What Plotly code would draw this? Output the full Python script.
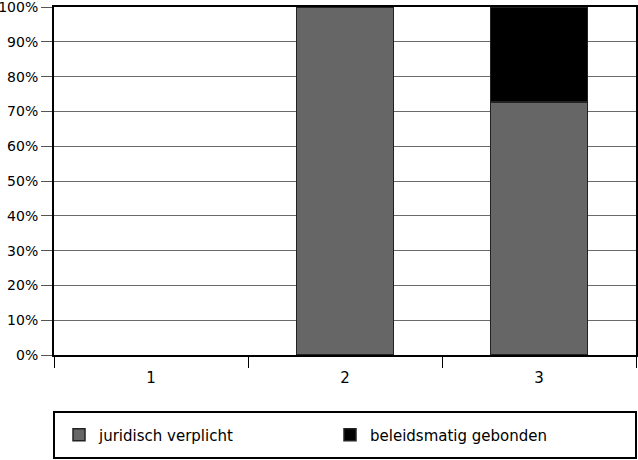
import plotly.graph_objects as go

categories = ["1", "2", "3"]
juridisch = [None, 100, 72.7]
beleids = [None, None, 27.3]
y_ticks = [0, 10, 20, 30, 40, 50, 60, 70, 80, 90, 100]
y_labels = [f"{v}%" for v in y_ticks]

fig = go.Figure()
fig.add_trace(go.Bar(x=categories, y=juridisch, name="juridisch verplicht",
                     marker=dict(color="#666666", line=dict(color="#222222", width=1.5)),
                     width=0.5))
fig.add_trace(go.Bar(x=categories, y=beleids, name="beleidsmatig gebonden",
                     marker=dict(color="#000000", line=dict(color="#222222", width=1.5)),
                     width=0.5))

H = 348.0
fig.update_layout(
    width=638, height=460,
    margin=dict(l=54, r=2, t=7, b=105, autoexpand=False),
    barmode="stack",
    plot_bgcolor="white", paper_bgcolor="white",
    font=dict(family="DejaVu Sans, Liberation Sans, sans-serif", size=14, color="black"),
    showlegend=True,
    legend=dict(orientation="h", x=5 / 582, xanchor="left", y=-(435 - 355) / H, yanchor="middle",
                entrywidth=226, entrywidthmode="pixels", bgcolor="rgba(0,0,0,0)",
                font=dict(size=15), traceorder="normal"),
    xaxis=dict(type="category", tickson="boundaries", ticks="outside", ticklen=11,
               tickcolor="black", tickwidth=1, showline=True, linecolor="black", linewidth=2,
               mirror=True, showgrid=False, fixedrange=True, automargin=False,
               ticklabelstandoff=8, tickfont=dict(size=15)),
    yaxis=dict(range=[0, 100], tickvals=y_ticks, ticktext=y_labels, ticks="outside", ticklen=11,
               tickcolor="#555555", showline=True, linecolor="black", linewidth=2, mirror=True,
               showgrid=True, gridcolor="#6a6a6a", gridwidth=1, zeroline=False,
               ticklabeloverflow="allow", automargin=False),
    shapes=[dict(type="rect", xref="paper", yref="paper", x0=0, x1=1,
                 y0=-(458 - 355) / H, y1=-(412 - 355) / H, line=dict(color="black", width=2))],
)

fig.write_html("out.html", config={"displayModeBar": False},
               post_script="document.body.style.margin='0';")
